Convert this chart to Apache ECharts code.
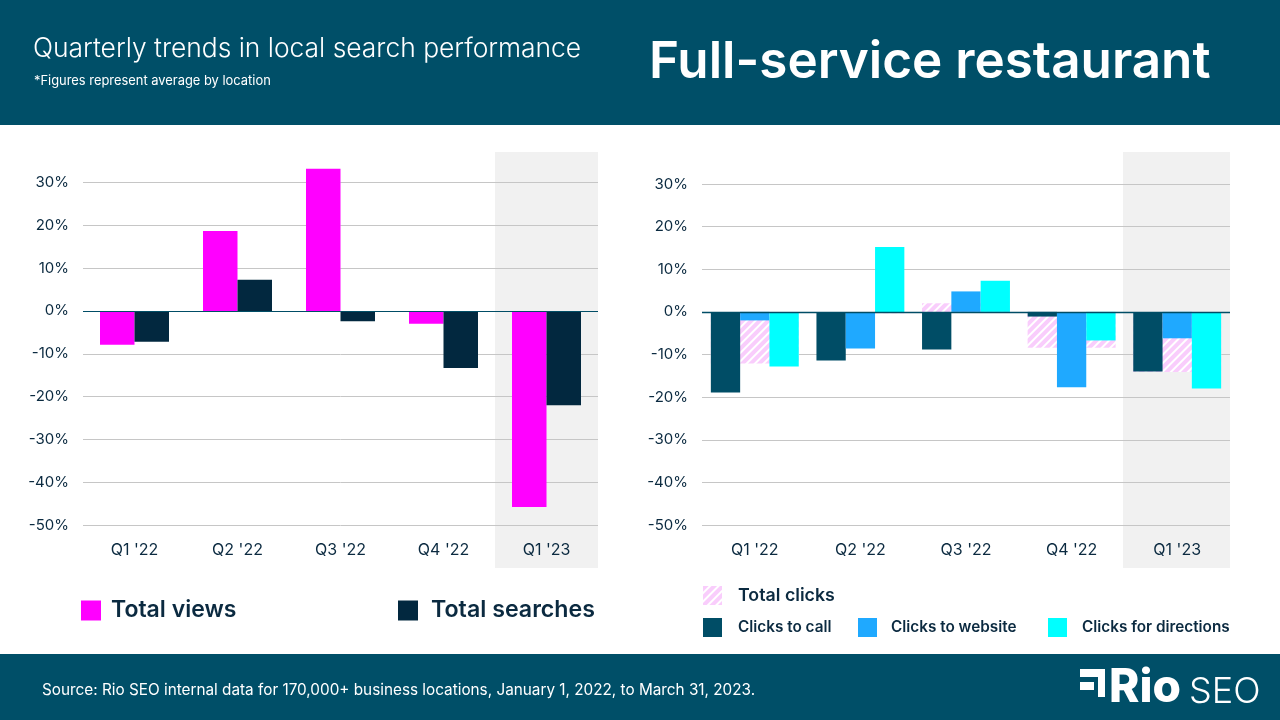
<!DOCTYPE html>
<html>
<head>
<meta charset="utf-8">
<title>Full-service restaurant</title>
<script src="https://cdn.jsdelivr.net/npm/echarts@6/dist/echarts.min.js"></script>
<style>
html,body{margin:0;padding:0;background:#fff}
#chart{width:1280px;height:720px}
</style>
</head>
<body>
<div id="chart"></div>
<script>
var categories = ["Q1 '22", "Q2 '22", "Q3 '22", "Q4 '22", "Q1 '23"];
var yTicks = { min: -50, max: 30, interval: 10 };
// left chart
var totalViews = [-7.9, 18.7, 33.2, -3, -45.8];
var totalSearches = [-7.2, 7.3, -2.4, -13.3, -22];
// right chart
var clicksToCall = [-18.9, -11.4, -8.8, -1.1, -14];
var clicksToWebsite = [-2, -8.6, 4.8, -17.7, -6.2];
var clicksForDirections = [-12.8, 15.2, 7.3, -6.7, -18];
var totalClicks = [-12.1, -0.3, 2, -8.4, -14.1];
// shaded quarter
var highlight = [null, null, null, null, 1];

var FONT = 'Inter';
var NAVY = '#0b2a40';
var TEAL = '#004d66';
var hatch = {
	color: '#fff',
	decal: { symbol: 'rect', color: '#f9cdfc', dashArrayX: [1, 0], dashArrayY: [3.3, 1.7], rotation: -Math.PI / 4, symbolSize: 1 }
};

function valueAxis(gridIndex) {
	return {
		gridIndex: gridIndex, type: 'value', min: yTicks.min, max: yTicks.max, interval: yTicks.interval,
		axisLine: { show: false }, axisTick: { show: false },
		axisLabel: { formatter: '{value}%', color: NAVY, fontFamily: FONT, fontSize: 15, margin: 14 },
		splitLine: { lineStyle: { color: '#c6c6c6', width: 1 } }
	};
}
function catAxis(gridIndex) {
	return {
		gridIndex: gridIndex, type: 'category', data: categories,
		axisLine: { show: false }, axisTick: { show: false },
		axisLabel: { color: NAVY, fontFamily: FONT, fontSize: 16, margin: 17 }
	};
}
function hiddenCat(gridIndex) {
	return { gridIndex: gridIndex, type: 'category', data: categories, show: false };
}
function hiddenVal(gridIndex) {
	return { gridIndex: gridIndex, type: 'value', min: 0, max: 1, show: false };
}
function bandSeries(xi, yi) {
	return { type: 'bar', name: 'band', xAxisIndex: xi, yAxisIndex: yi, data: highlight, barWidth: '100%', silent: true, z: -1, itemStyle: { color: '#f1f1f1' } };
}
function zeroLine(width) {
	return { silent: true, symbol: 'none', label: { show: false }, lineStyle: { color: TEAL, width: width, type: 'solid' }, data: [{ yAxis: 0 }] };
}
function legendAt(name, left, top, size, fontSize, gap) {
	return {
		data: [name], left: left, top: top, padding: 0, orient: 'horizontal', selectedMode: false,
		icon: 'rect', itemWidth: size, itemHeight: size, itemStyle: { borderWidth: 0 },
		textStyle: { color: NAVY, fontFamily: FONT, fontWeight: 600, fontSize: fontSize, padding: [2, 0, 0, gap] }
	};
}

var option = {
	animation: false,
	backgroundColor: '#fff',
	title: [
		{ text: 'Quarterly trends in local search performance', left: 33, top: 36, padding: 0, textStyle: { color: '#fff', fontFamily: FONT, fontWeight: 300, fontSize: 26.4 } },
		{ text: '*Figures represent average by location', left: 34, top: 75, padding: 0, textStyle: { color: '#fff', fontFamily: FONT, fontWeight: 400, fontSize: 12.9 } },
		{ text: 'Full-service restaurant', left: 649, top: 37, padding: 0, textStyle: { color: '#fff', fontFamily: FONT, fontWeight: 600, fontSize: 51.2 } },
		{ text: 'Source: Rio SEO internal data for 170,000+ business locations, January 1, 2022, to March 31, 2023.', left: 42, top: 683, padding: 0, textStyle: { color: '#fff', fontFamily: FONT, fontWeight: 400, fontSize: 15.3 } }
	],
	graphic: [
		{ type: 'rect', z: -10, shape: { x: 0, y: 0, width: 1280, height: 125 }, style: { fill: '#004f68' } },
		{ type: 'rect', z: -10, shape: { x: 0, y: 654, width: 1280, height: 66 }, style: { fill: '#004f68' } },
		// logo
		{ type: 'rect', shape: { x: 1080, y: 669, width: 25, height: 8 }, style: { fill: '#fff' } },
		{ type: 'rect', shape: { x: 1080, y: 682, width: 14, height: 8 }, style: { fill: '#fff' } },
		{ type: 'rect', shape: { x: 1098, y: 677, width: 7, height: 20 }, style: { fill: '#fff' } },
		{ type: 'text', style: { x: 1109, y: 688, text: 'Rio', fill: '#fff', font: '800 46px Inter', verticalAlign: 'middle' } },
		{ type: 'text', style: { x: 1189, y: 692, text: 'SEO', fill: '#fff', font: '300 36px Inter', verticalAlign: 'middle' } }
	],
	legend: [
		legendAt('Total views', 81, 599, 20, 23, 5),
		legendAt('Total searches', 398, 599, 20, 23.2, 8),
		legendAt('Total clicks', 703, 586, 19, 17.8, 11),
		legendAt('Clicks to call', 703, 618, 19, 15.3, 11),
		legendAt('Clicks to website', 858, 618, 19, 15.3, 9),
		legendAt('Clicks for directions', 1048, 618, 19, 15.3, 10)
	],
	grid: [
		{ left: 83, top: 182.5, width: 515, height: 342.5 },
		{ left: 83, top: 152, width: 515, height: 416 },
		{ left: 702, top: 184, width: 528, height: 341 },
		{ left: 695, top: 152, width: 535, height: 416 }
	],
	xAxis: [catAxis(0), hiddenCat(1), catAxis(2), hiddenCat(2), hiddenCat(3)],
	yAxis: [valueAxis(0), hiddenVal(1), valueAxis(2), hiddenVal(3)],
	series: [
		bandSeries(1, 1),
		bandSeries(4, 3),
		{ type: 'bar', name: 'Total views', xAxisIndex: 0, yAxisIndex: 0, data: totalViews, barWidth: 34.5, barGap: 0, clip: false, itemStyle: { color: '#ff00ff' }, markLine: zeroLine(1) },
		{ type: 'bar', name: 'Total searches', xAxisIndex: 0, yAxisIndex: 0, data: totalSearches, barWidth: 34.5, barGap: 0, clip: false, itemStyle: { color: '#02283f' } },
		{ type: 'bar', name: 'Total clicks', xAxisIndex: 3, yAxisIndex: 2, data: totalClicks, barWidth: 88, z: 1, itemStyle: hatch },
		{ type: 'bar', name: 'Clicks to call', xAxisIndex: 2, yAxisIndex: 2, data: clicksToCall, barWidth: 29.3, barGap: 0, itemStyle: { color: TEAL }, markLine: zeroLine(1.3) },
		{ type: 'bar', name: 'Clicks to website', xAxisIndex: 2, yAxisIndex: 2, data: clicksToWebsite, barWidth: 29.3, barGap: 0, itemStyle: { color: '#1fa9ff' } },
		{ type: 'bar', name: 'Clicks for directions', xAxisIndex: 2, yAxisIndex: 2, data: clicksForDirections, barWidth: 29.3, barGap: 0, itemStyle: { color: '#00ffff' } }
	]
};

var chart = echarts.init(document.getElementById('chart'));
chart.setOption(option);
</script>
</body>
</html>
